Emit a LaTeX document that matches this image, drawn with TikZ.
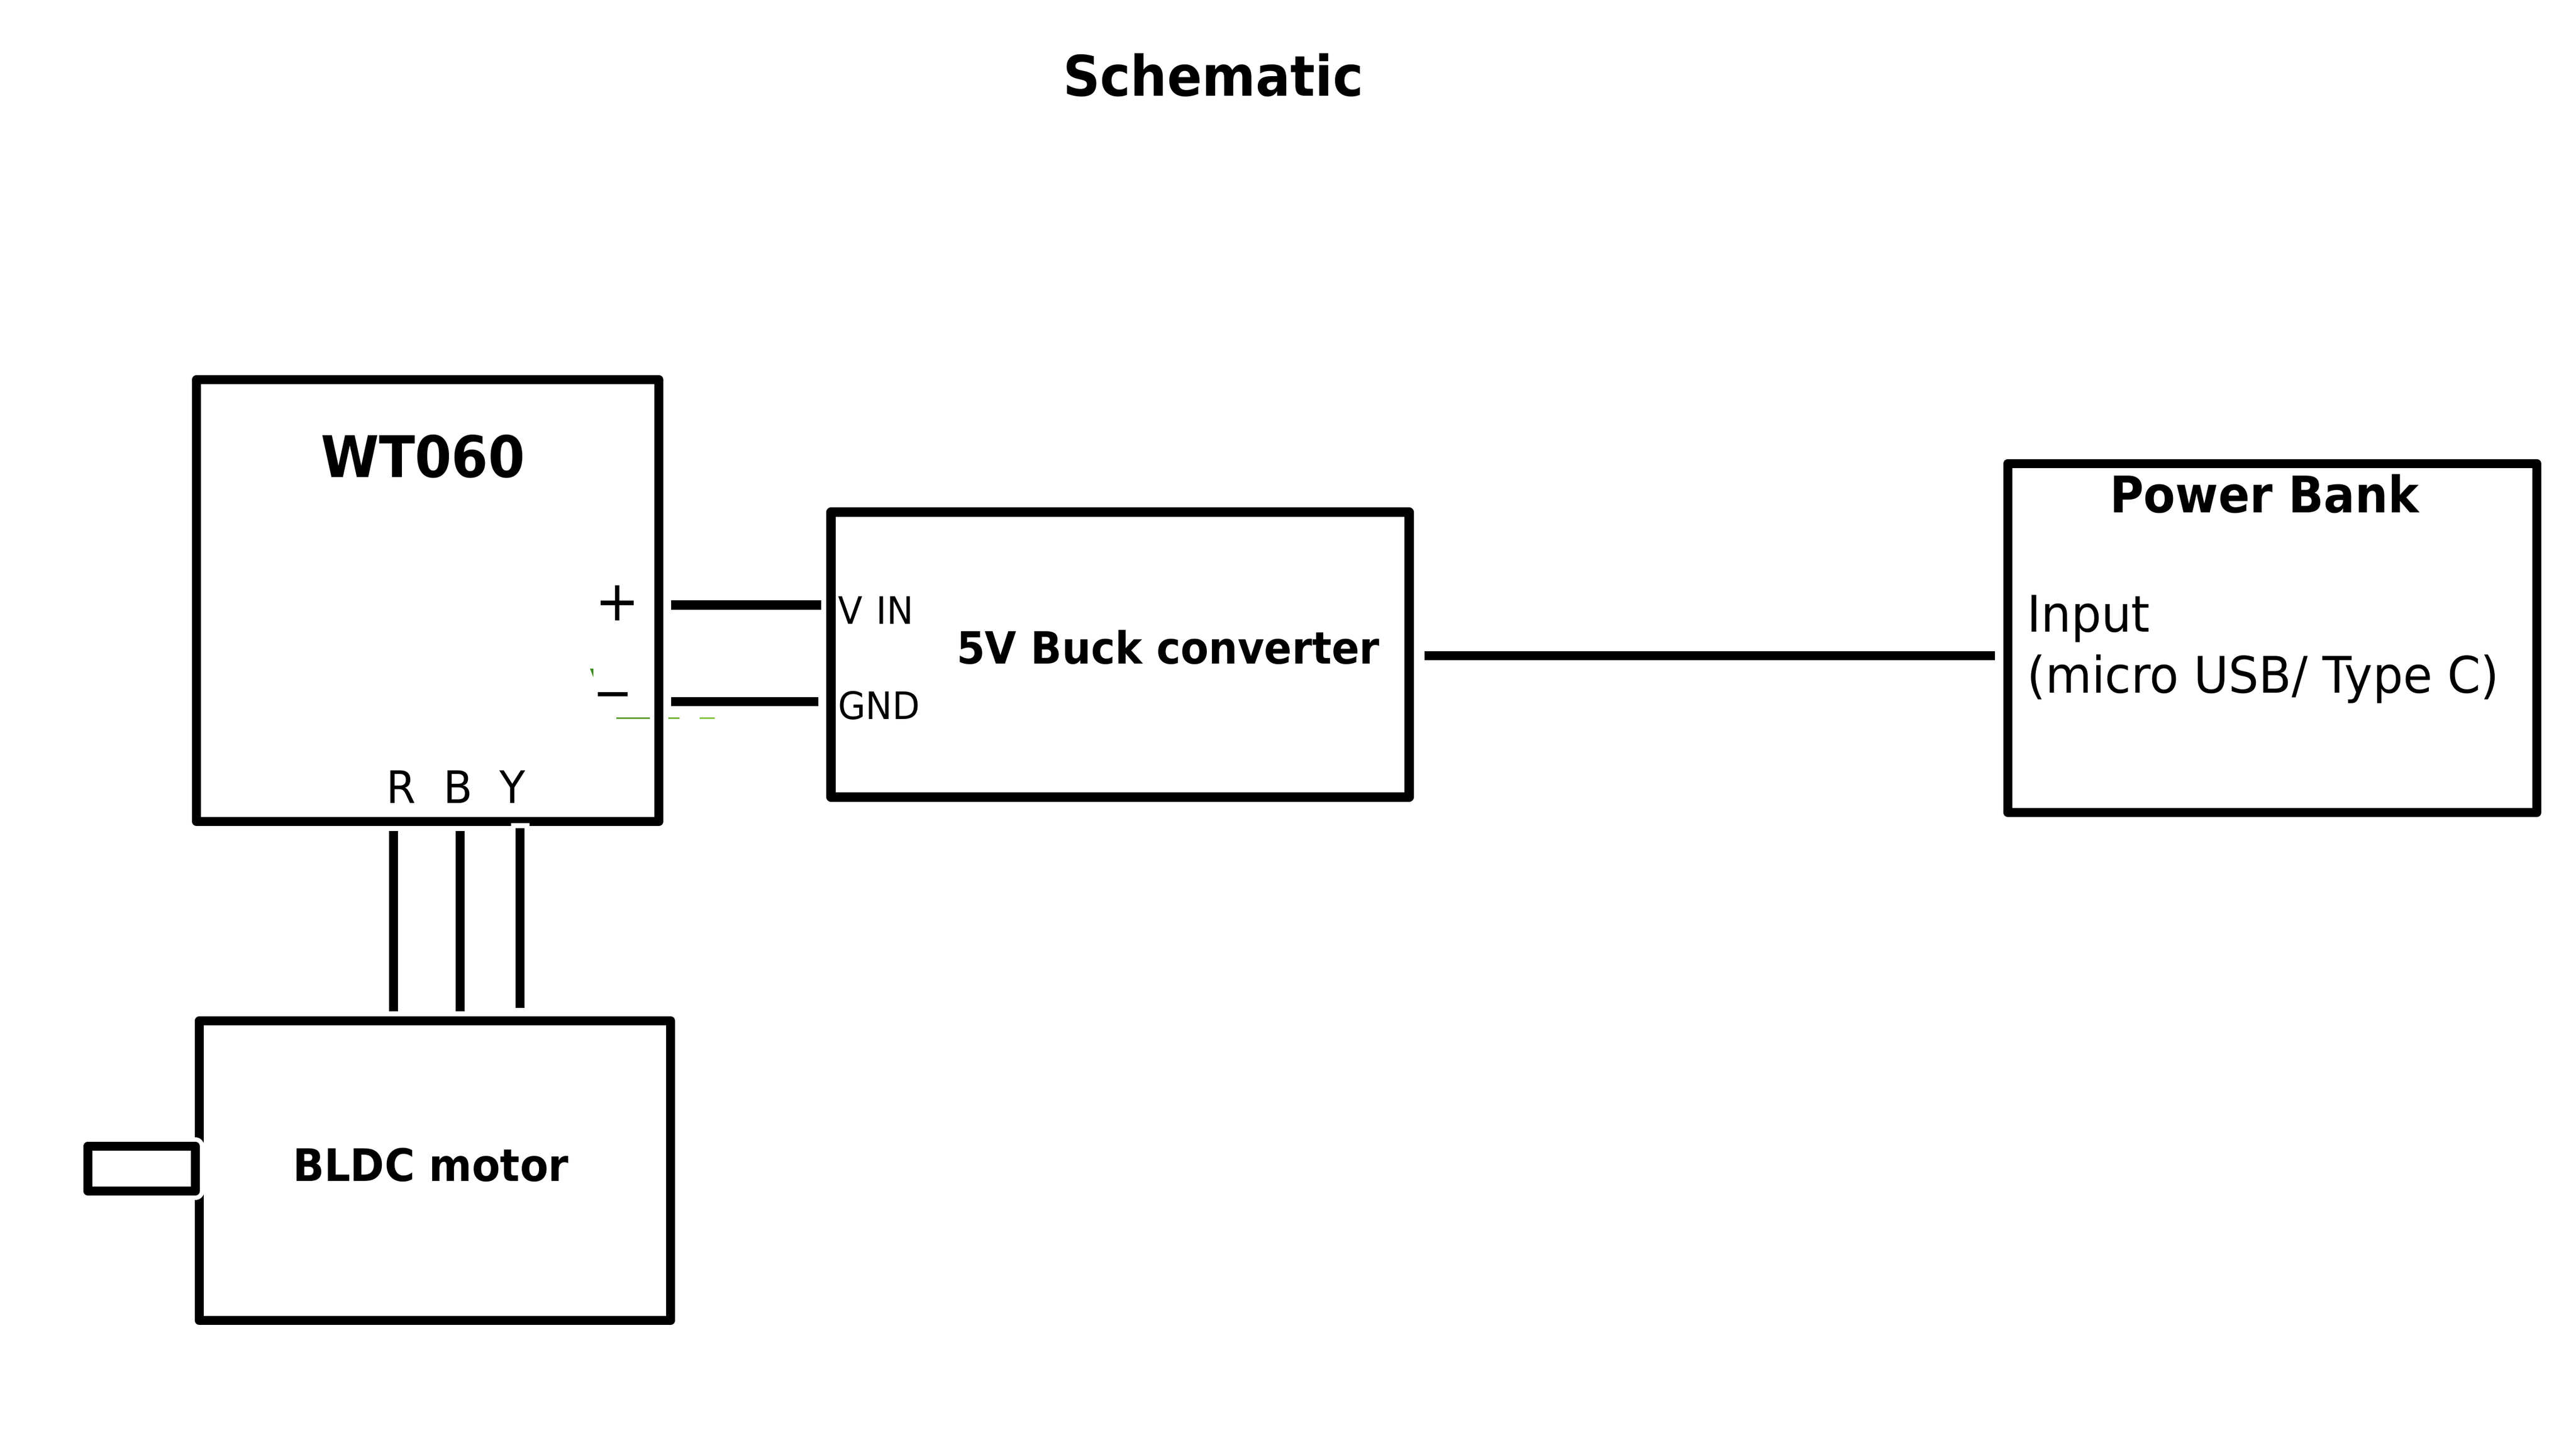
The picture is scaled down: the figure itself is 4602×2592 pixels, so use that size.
\documentclass[tikz,border=0pt]{standalone}
\usepackage{fontspec}
\setmainfont{DejaVu Sans}
\newfontfamily\thinfont[FakeStretch=0.945]{DejaVu Sans}
\newfontfamily\boldfont[FakeStretch=0.92]{DejaVu Sans Bold}
\definecolor{tickgreen}{HTML}{3F8A20}
\definecolor{dashgreena}{HTML}{66A438}
\definecolor{dashgreenb}{HTML}{7CB843}
\definecolor{dashgreenc}{HTML}{8BC84A}
\tikzset{
  blockbox/.style={draw,line width=3.25pt,line join=round,inner sep=0pt},
  wire/.style={line width=3.25pt},
  haloed/.style={preaction={draw=white,line width=6.6pt,shorten <=-1.8pt}},
  boldlabel/.style={anchor=base west,inner sep=0pt,font=\boldfont\fontsize{#1}{#1}\selectfont},
  thinlabel/.style={anchor=base west,inner sep=0pt,font=\thinfont\fontsize{#1}{#1}\selectfont},
}
\begin{document}
\begin{tikzpicture}[x=0.2pt,y=-0.2pt]
\useasboundingbox (0,0) rectangle (4602,2592);
% boxes
\node (wt) [blockbox,minimum width=165.2pt,minimum height=157.8pt] at (764,1072.5) {};
\node (buck) [blockbox,minimum width=206.6pt,minimum height=101.8pt] at (2001,1169) {};
\node (bank) [blockbox,minimum width=189pt,minimum height=124.6pt] at (4059.5,1139.5) {};
\node (motor) [blockbox,minimum width=168.4pt,minimum height=107pt] at (777,2090.5) {};
\node (shaft) [blockbox,preaction={draw=white,line width=6.3pt},minimum width=38.4pt,minimum height=16pt] at (253,2087) {};
% wire ends
\coordinate (plusa) at (1199,1080.5);
\coordinate (plusb) at (1467,1080.5);
\coordinate (gnda) at (1199,1253);
\coordinate (gndb) at (1462,1253);
\coordinate (linka) at (2545,1171);
\coordinate (linkb) at (3564,1171);
\coordinate (ra) at (703,1484);
\coordinate (rb) at (703,1806);
\coordinate (ba) at (822,1484);
\coordinate (bb) at (822,1806);
\coordinate (ya) at (929,1479);
\coordinate (yb) at (929,1800);
\draw[wire] (plusa) -- (plusb);
\draw[wire] (gnda) -- (gndb);
\draw[wire] (linka) -- (linkb);
\draw[wire,haloed] (ra) -- (rb);
\draw[wire,haloed] (ba) -- (bb);
\draw[wire,haloed] (ya) -- (yb);
% green leftovers
\fill[tickgreen] (1054,1194) -- (1060,1194) -- (1060,1209) -- cycle;
\draw[dashgreena,line width=0.7pt] (1101,1282.5) -- (1161,1282.5);
\draw[dashgreenb,line width=0.7pt] (1194,1282.5) -- (1214,1282.5);
\draw[dashgreenc,line width=0.7pt] (1250,1282.5) -- (1277,1282.5);
% labels
\node (title) [boldlabel=20] at (1898,171) {Schematic};
\node (wtname) [boldlabel=20.5] at (572,852) {WT060};
\node (plus) [thinlabel=20] at (1062,1108) {+};
\node (minus) [thinlabel=18] at (1058,1268) {−};
\node (vin) [thinlabel=13.5] at (1496,1114) {V\hspace{1pt} IN};
\node (gnd) [thinlabel=13.5] at (1496,1284) {GND};
\node (rlabel) [thinlabel=16] at (689,1434) {R};
\node (blabel) [thinlabel=16] at (791,1434) {B};
\node (ylabel) [thinlabel=16] at (891,1434) {Y};
\node (buckname) [boldlabel=15.85] at (1708,1185) {5V Buck converter};
\node (bankname) [boldlabel=18] at (3768,915) {Power Bank};
\node (input) [thinlabel=18] at (3620,1128) {Input};
\node (usb) [thinlabel=18] at (3620,1237) {(micro USB/ Type C)};
\node (motorname) [boldlabel=16] at (522,2109) {BLDC motor};
\end{tikzpicture}
\end{document}
